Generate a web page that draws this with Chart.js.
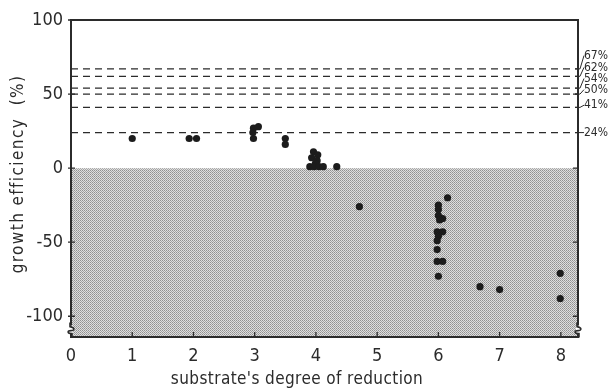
<!DOCTYPE html>
<html>
<head>
<meta charset="utf-8">
<script src="https://cdn.jsdelivr.net/npm/chart.js@4.4.1/dist/chart.umd.min.js"></script>
<style>
  html, body { margin: 0; padding: 0; background: #fff; }
  #wrap { width: 609px; height: 388px; }
</style>
</head>
<body>
<div id="wrap"><canvas id="chartGE" width="609" height="388"></canvas></div>
<script>
// axis ranges + ticks
const X_MIN = 0;
const X_MAX = 8.28;
const Y_MIN = -114;
const Y_MAX = 100;
const xTicks = [0, 1, 2, 3, 4, 5, 6, 7, 8];
const yTicks = [-100, -50, 0, 50, 100];

// axis titles
const xTitle = "substrate's degree of reduction";
const yTitle = 'growth efficiency  (%)';

// theoretical max efficiencies (dashed lines) and where their labels sit
const levels = [67, 62, 54, 50, 41, 24];
const levelLabels = ['67%', '62%', '54%', '50%', '41%', '24%'];
const levelLabelAt = [76, 68, 60.5, 53, 42.5, 24];

// measured points
const substrateX = [
    1.0,
    1.93, 2.05,
    2.98, 3.06, 2.97, 2.98,
    3.5, 3.5,
    3.96, 4.03, 3.93, 4.02, 3.99, 3.9, 3.97, 4.05, 4.12,
    4.34,
    4.71,
    6.15,
    6.0, 6.0, 6.0, 6.07, 6.02,
    5.98, 6.07, 6.0, 5.98, 5.98, 5.98, 6.07, 6.0,
    6.68, 7.0, 7.99, 7.99
];
const growthY = [
    20,
    20, 20,
    27, 28, 24, 20,
    20, 16,
    11, 9, 7, 5, 3, 1, 1, 1, 1,
    1,
    -26,
    -20,
    -25, -28, -32, -34, -35,
    -43, -43, -46, -49, -55, -63, -63, -73,
    -80, -82, -71, -88
];

const INK = '#2b2b2b';
const FONT = "'DejaVu Sans Condensed', 'DejaVu Sans', sans-serif";

// stipple pattern for the negative region
function makeStipple() {
    const c = document.createElement('canvas');
    c.width = 2; c.height = 2;
    const g = c.getContext('2d');
    g.fillStyle = '#dedede';
    g.fillRect(0, 0, 2, 2);
    g.fillStyle = '#909090';
    g.fillRect(0, 0, 1, 1);
    g.fillStyle = '#a4a4a4';
    g.fillRect(1, 1, 1, 1);
    return g.createPattern(c, 'repeat');
}

const _datasets = [
    {
        label: 'negative',
        type: 'line',
        data: [{x: X_MIN, y: 0}, {x: X_MAX, y: 0}],
        borderWidth: 0,
        pointRadius: 0,
        fill: 'start',
        backgroundColor: makeStipple(),
        order: 10
    }
];

levels.forEach((lv) => {
    _datasets.push({
        label: lv + '%',
        type: 'line',
        data: [{x: X_MIN, y: lv}, {x: X_MAX, y: lv}],
        borderColor: INK,
        borderWidth: 1.3,
        borderDash: [7, 5],
        pointRadius: 0,
        fill: false,
        order: 5
    });
});

_datasets.push({
    label: 'growth efficiency',
    type: 'scatter',
    data: substrateX.map((x, i) => ({x: x, y: growthY[i]})),
    backgroundColor: '#1c1c1c',
    borderWidth: 0,
    pointRadius: 3.6,
    order: 1
});

// frame, tick marks, axis breaks, titles and right-hand labels
const framePlugin = {
    id: 'frame',
    afterDraw(chart) {
        const ctx = chart.ctx;
        const a = chart.chartArea;
        const xs = chart.scales.x;
        const ys = chart.scales.y;
        ctx.save();
        ctx.strokeStyle = INK;
        ctx.lineWidth = 2;
        ctx.strokeRect(a.left, a.top, a.right - a.left, a.bottom - a.top);

        ctx.lineWidth = 1.3;
        ctx.beginPath();
        xTicks.forEach((t) => {
            const px = xs.getPixelForValue(t);
            ctx.moveTo(px, a.bottom);
            ctx.lineTo(px, a.bottom - 5);
        });
        yTicks.forEach((t) => {
            const py = ys.getPixelForValue(t);
            ctx.moveTo(a.left - 3, py);
            ctx.lineTo(a.left + 4, py);
            ctx.moveTo(a.right, py);
            ctx.lineTo(a.right - 5, py);
        });
        ctx.stroke();

        // axis break squiggles
        const by = ys.getPixelForValue(-109);
        [a.left, a.right].forEach((bx) => {
            ctx.fillStyle = '#fff';
            ctx.fillRect(bx - 2, by - 4, 4, 8);
            ctx.beginPath();
            ctx.lineWidth = 1.6;
            ctx.moveTo(bx - 1, by - 7);
            ctx.lineTo(bx - 1, by - 3);
            ctx.bezierCurveTo(bx + 4, by - 2, bx + 4, by + 1, bx, by + 1);
            ctx.bezierCurveTo(bx - 4, by + 1, bx - 4, by + 4, bx + 1, by + 4);
            ctx.lineTo(bx + 1, by + 8);
            ctx.stroke();
        });

        // labels for the dashed levels, with leader lines
        ctx.font = '12px ' + FONT;
        ctx.fillStyle = INK;
        ctx.textBaseline = 'middle';
        ctx.textAlign = 'left';
        ctx.lineWidth = 1;
        levels.forEach((lv, i) => {
            const y0 = ys.getPixelForValue(lv);
            const y1 = ys.getPixelForValue(levelLabelAt[i]);
            ctx.beginPath();
            ctx.moveTo(a.right - 3, y0);
            ctx.lineTo(a.right + 2, y0);
            ctx.lineTo(a.right + 6, y1);
            ctx.stroke();
            ctx.fillText(levelLabels[i], a.right + 6, y1);
        });

        // axis titles (spaced out like the original lettering)
        ctx.fillStyle = INK;
        ctx.textAlign = 'center';
        ctx.textBaseline = 'alphabetic';
        ctx.font = '17px ' + FONT;
        ctx.letterSpacing = '0.4px';
        ctx.fillText(xTitle, 297, 384);

        ctx.save();
        ctx.translate(23, 174);
        ctx.rotate(-Math.PI / 2);
        ctx.letterSpacing = '1.4px';
        ctx.fillText(yTitle, 0, 0);
        ctx.restore();

        ctx.restore();
    }
};

const _config = {
    type: 'scatter',
    data: { datasets: _datasets },
    options: {
        responsive: false,
        animation: false,
        layout: { padding: { top: 20, right: 31, left: 0, bottom: 0 } },
        plugins: {
            legend: { display: false },
            tooltip: { enabled: false }
        },
        scales: {
            x: {
                type: 'linear',
                min: X_MIN,
                max: X_MAX,
                afterBuildTicks: (scale) => { scale.ticks = xTicks.map((v) => ({value: v})); },
                afterFit: (scale) => { scale.height = 51; },
                grid: { display: false, drawTicks: false },
                border: { display: false },
                ticks: {
                    color: INK,
                    padding: 9,
                    font: { family: FONT, size: 18 },
                    callback: (v) => v
                },
                title: { display: false }
            },
            y: {
                type: 'linear',
                min: Y_MIN,
                max: Y_MAX,
                afterBuildTicks: (scale) => { scale.ticks = yTicks.map((v) => ({value: v})); },
                afterFit: (scale) => { scale.width = 71; },
                grid: { display: false, drawTicks: false },
                border: { display: false },
                ticks: {
                    color: INK,
                    padding: 8,
                    font: { family: FONT, size: 18 },
                    callback: (v) => v
                },
                title: { display: false }
            }
        }
    },
    plugins: [framePlugin]
};

const chartGE = new Chart(document.getElementById('chartGE'), _config);
</script>
</body>
</html>
